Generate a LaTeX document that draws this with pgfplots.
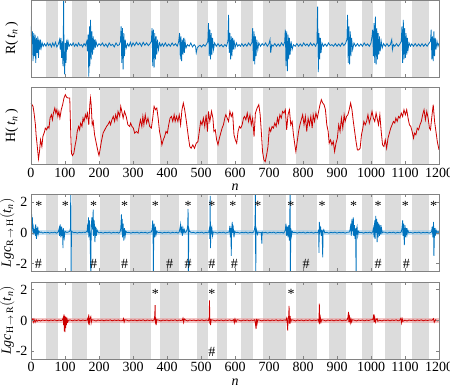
\documentclass[border=0pt]{standalone}
\usepackage{pgfplots}
\pgfplotsset{compat=1.18}
\usepackage{fontspec}
\setmainfont{Liberation Serif}
\definecolor{mblue}{RGB}{0,114,189}
\definecolor{mred}{RGB}{205,0,0}
\definecolor{bandgray}{RGB}{220,220,220}
\definecolor{framegray}{RGB}{130,130,130}
\newcommand{\band}[4]{\addplot[draw=none,fill=bandgray] coordinates {(#1,#3)(#1,#4)(#2,#4)(#2,#3)} --cycle;}
\newcommand{\allbands}[2]{%
\band{43}{80}{#1}{#2}\band{121}{166}{#1}{#2}\band{202}{261}{#1}{#2}\band{290}{354}{#1}{#2}%
\band{380}{435}{#1}{#2}\band{489}{520}{#1}{#2}\band{548}{577}{#1}{#2}\band{618}{653}{#1}{#2}%
\band{682}{750}{#1}{#2}\band{779}{841}{#1}{#2}\band{875}{925}{#1}{#2}\band{973}{1005}{#1}{#2}%
\band{1040}{1089}{#1}{#2}\band{1120}{1171}{#1}{#2}}
\pgfplotsset{
  every axis/.append style={
    scale only axis, width=408pt, height=77pt, anchor=south west,
    xmin=0, xmax=1200, xtick={0,100,...,1200},
    font=\fontsize{14}{16}\selectfont,
    /pgf/number format/assume math mode=true,
    /pgf/number format/1000 sep={},
    axis line style={framegray, line width=0.5pt},
    every tick/.style={framegray, line width=0.5pt},
    major tick length=3pt, tick align=inside, tick pos=both,
    axis on top, clip=true,
    ylabel style={at={(axis description cs:-0.047,0.5)}, anchor=center},
    xlabel style={at={(axis description cs:0.5,-0.30)}, anchor=center},
  }
}
\begin{document}
\begin{tikzpicture}
\path[use as bounding box] (0pt,0pt) rectangle (450pt,387pt);
% ---------------- Panel 1: R(t_n)
\begin{axis}[at={(31pt,310pt)}, y dir=reverse, ymin=0, ymax=233, ytick=\empty, xticklabels={},
  ylabel={R(\,\textit{t}\textsubscript{\textit{n}}\,)}]
\allbands{0}{233}
\addplot[mblue, line width=0.8pt] coordinates {
(0,110)(1,80)(3,130)(4,95)(6,185)(8,100)(10,170)(12,105)(14,190)(16,115)(18,160)(20,110)(22,175)(24,120)(26,150)(28,120)(30,145)(33,130)(36,140)(40,132)(44,140)(48,130)(52,138)(56,132)(60,142)(64,130)(68,140)(72,128)(76,142)(80,135)(84,120)(86,150)(88,115)(90,175)(92,125)(94,200)(95,110)(96,0)(97,170)(99,225)(101,130)(103,190)(105,120)(107,150)(109,125)(112,140)(116,133)(120,138)(124,130)(128,140)(132,133)(136,140)(140,130)(144,138)(148,135)(152,142)(156,132)(160,138)(164,125)(166,155)(168,105)(170,232)(172,80)(173,200)(175,60)(177,180)(179,95)(181,165)(183,110)(185,150)(187,120)(189,145)(191,125)(195,140)(200,132)(205,138)(210,130)(215,140)(220,133)(225,142)(230,130)(235,138)(240,134)(245,142)(250,130)(255,138)(260,135)(263,125)(265,80)(267,190)(269,85)(271,210)(273,100)(275,170)(277,120)(280,145)(284,132)(288,140)(292,128)(296,140)(300,130)(305,138)(310,128)(315,136)(320,130)(325,140)(330,128)(335,137)(340,130)(345,138)(350,132)(354,125)(356,85)(358,200)(360,90)(362,205)(364,100)(366,180)(368,110)(370,165)(372,120)(375,150)(378,130)(382,140)(386,132)(390,140)(395,130)(400,140)(405,133)(410,140)(415,130)(420,138)(425,132)(430,140)(434,128)(437,100)(439,180)(441,110)(443,185)(445,120)(447,165)(449,115)(451,160)(453,125)(456,145)(460,135)(465,140)(470,130)(475,142)(480,135)(484,140)(486,160)(489,145)(493,140)(497,137)(502,142)(507,135)(512,140)(517,132)(520,125)(522,70)(524,170)(526,90)(528,180)(530,100)(532,165)(534,115)(537,150)(540,130)(545,140)(550,132)(555,140)(560,135)(565,142)(570,135)(575,140)(579,125)(581,45)(583,160)(585,100)(587,180)(589,110)(591,170)(593,115)(595,150)(597,120)(600,145)(604,130)(608,140)(612,135)(616,140)(620,132)(625,140)(630,133)(635,140)(640,130)(645,138)(650,128)(652,85)(654,185)(656,95)(658,195)(660,110)(662,170)(664,120)(667,150)(670,130)(675,140)(680,132)(685,138)(690,130)(695,140)(700,132)(703,120)(705,160)(708,135)(712,140)(717,132)(722,140)(727,133)(732,140)(737,130)(742,138)(746,128)(748,90)(750,200)(752,95)(754,215)(756,105)(758,180)(760,115)(762,165)(765,125)(768,150)(772,135)(777,140)(782,132)(787,140)(792,133)(797,140)(802,130)(807,138)(812,133)(817,140)(822,130)(827,138)(832,132)(837,140)(841,130)(843,20)(845,218)(847,100)(849,180)(851,115)(853,160)(856,130)(860,140)(865,133)(870,140)(875,130)(880,138)(885,135)(890,140)(895,132)(900,140)(905,133)(910,140)(915,130)(920,138)(925,132)(929,120)(931,45)(933,190)(935,80)(937,195)(939,95)(941,170)(943,115)(946,150)(950,130)(955,140)(960,132)(965,140)(970,133)(975,140)(980,130)(985,138)(990,133)(995,140)(1000,130)(1003,110)(1005,90)(1007,170)(1009,70)(1011,190)(1013,50)(1015,195)(1017,85)(1019,180)(1021,100)(1023,165)(1025,110)(1027,155)(1030,125)(1033,145)(1037,132)(1042,140)(1047,132)(1052,140)(1057,135)(1061,120)(1063,150)(1066,135)(1070,140)(1075,132)(1080,140)(1085,133)(1089,125)(1091,80)(1093,190)(1095,60)(1097,180)(1099,85)(1101,175)(1103,100)(1105,165)(1107,115)(1109,150)(1112,130)(1116,140)(1120,133)(1125,140)(1130,132)(1135,140)(1140,133)(1145,140)(1150,132)(1155,140)(1160,133)(1165,140)(1170,132)(1175,125)(1177,90)(1179,180)(1181,110)(1183,185)(1185,95)(1187,170)(1189,115)(1191,150)(1194,125)(1197,140)(1200,130)
};
\end{axis}
% ---------------- Panel 2: H(t_n)
\begin{axis}[at={(31pt,222.7pt)}, y dir=reverse, ymin=8, ymax=238, ytick=\empty,
  ylabel={H(\,\textit{t}\textsubscript{\textit{n}}\,)}, xlabel={\textit{n}}]
\allbands{8}{238}
\addplot[mred, line width=0.8pt] coordinates {
(0,55)(6,65)(9,85)(13,120)(15,150)(19,190)(22,222)(25,200)(28,165)(32,185)(35,155)(40,140)(42,130)(46,135)(50,125)(53,130)(56,100)(60,90)(63,105)(66,85)(70,70)(73,85)(76,75)(79,95)(82,80)(85,100)(89,75)(93,60)(97,40)(101,30)(105,38)(109,40)(114,40)(117,150)(119,205)(122,212)(126,205)(130,180)(133,165)(136,140)(140,125)(143,135)(146,115)(150,125)(153,100)(156,110)(160,90)(163,100)(166,85)(170,120)(173,60)(175,40)(177,60)(180,120)(183,110)(187,150)(192,175)(197,200)(200,212)(203,195)(207,170)(212,145)(217,135)(222,125)(226,120)(231,110)(234,120)(238,105)(242,95)(246,110)(249,90)(253,105)(256,80)(261,95)(264,65)(268,85)(271,100)(275,80)(280,95)(285,120)(290,125)(293,115)(297,125)(301,130)(305,145)(310,140)(315,145)(319,120)(322,105)(326,125)(329,95)(332,120)(336,90)(340,115)(344,100)(349,125)(354,130)(358,100)(362,65)(366,75)(370,70)(374,100)(378,140)(382,160)(385,180)(389,165)(393,155)(397,140)(401,145)(405,120)(409,100)(413,95)(417,110)(421,90)(424,110)(428,95)(432,110)(436,90)(440,120)(444,75)(448,55)(452,75)(457,110)(462,150)(467,185)(471,190)(476,180)(481,190)(486,175)(491,170)(495,140)(499,110)(503,120)(507,100)(511,125)(515,90)(519,140)(522,80)(526,110)(531,80)(535,100)(538,140)(542,135)(546,165)(550,180)(554,160)(558,145)(562,130)(566,120)(570,100)(573,90)(577,100)(581,110)(585,80)(589,95)(593,85)(597,150)(601,165)(605,175)(609,140)(613,125)(617,130)(621,120)(625,100)(628,95)(632,105)(636,85)(640,110)(644,90)(648,120)(652,100)(656,155)(660,85)(665,70)(670,60)(674,90)(678,150)(681,200)(685,225)(689,230)(693,210)(697,185)(701,130)(705,140)(709,125)(713,130)(717,115)(721,125)(725,100)(728,115)(732,90)(736,100)(740,80)(744,85)(748,75)(752,135)(756,90)(760,75)(764,120)(768,110)(772,150)(776,180)(779,200)(783,170)(787,140)(791,120)(795,105)(799,90)(803,120)(807,95)(811,140)(815,100)(819,120)(823,95)(827,130)(830,90)(834,110)(838,85)(842,100)(846,80)(850,60)(854,45)(858,55)(862,60)(866,75)(870,120)(874,140)(877,175)(881,165)(885,180)(889,170)(893,200)(897,175)(901,160)(905,120)(909,140)(913,100)(917,130)(921,90)(924,110)(928,95)(932,90)(936,75)(940,55)(944,75)(948,110)(952,140)(956,170)(960,195)(964,195)(968,190)(972,150)(976,130)(979,110)(983,120)(987,110)(991,90)(995,115)(999,100)(1003,80)(1007,100)(1011,110)(1015,85)(1018,100)(1022,120)(1026,90)(1030,140)(1034,180)(1038,185)(1042,165)(1046,190)(1050,160)(1054,145)(1058,130)(1062,120)(1066,110)(1070,115)(1073,100)(1077,110)(1081,95)(1085,100)(1089,85)(1093,95)(1097,75)(1101,90)(1105,75)(1109,100)(1113,120)(1117,125)(1121,140)(1125,160)(1128,145)(1132,150)(1136,130)(1140,135)(1144,120)(1148,110)(1152,90)(1156,75)(1160,105)(1164,80)(1168,100)(1172,130)(1175,135)(1179,95)(1183,60)(1187,110)(1191,140)(1195,170)(1200,195)
};
\end{axis}
% ---------------- Panel 3: Lgc R->H
\begin{axis}[at={(31pt,115.7pt)}, ymin=-2.5, ymax=2.5, ytick={-2,0,2}, xticklabels={},
  ylabel style={at={(axis description cs:-0.058,0.5)}},
  ylabel={\textit{Lgc}\textsubscript{R$\,\rightarrow\,$H}$\bigl($\textit{t}\textsubscript{\textit{n}}$\bigr)$}]
\allbands{-2.5}{2.5}
\addplot[draw=none, fill=mblue!40, fill opacity=0.55] coordinates {(0,-0.17)(1200,-0.17)(1200,0.17)(0,0.17)} --cycle;
\addplot[mblue, line width=0.8pt] coordinates {
(0,0.1)(2,1.2)(3,0.3)(4,1.0)(5,0.1)(6,0.6)(7,-0.1)(8,0.2)(10,0.05)(12,0.3)(13,-0.2)(14,0.55)(15,0.1)(16,-0.4)(17,0.3)(18,0.05)(20,0.4)(21,-0.1)(23,0.1)(26,0.02)(30,0.05)(35,-0.02)(40,0.03)(45,0)(50,0.03)(55,-0.02)(60,0.02)(65,0)(70,0.04)(75,-0.02)(80,0.05)(83,0.3)(84,-0.2)(86,0.55)(87,0.1)(88,-0.3)(90,0.4)(91,-0.2)(93,0.2)(94,-1.0)(95,0.3)(96,0.1)(98,-0.3)(100,0.1)(103,0.05)(106,0.02)(110,0.05)(114,0.1)(116,0.3)(117,3)(118,-3)(119,0.1)(122,0.05)(126,0)(130,0.03)(136,-0.02)(142,0.03)(148,0)(154,0.04)(160,0.02)(165,0.1)(167,0.6)(168,0.0)(169,1.0)(170,-0.3)(172,0.8)(174,-0.5)(176,-3)(177,0.3)(179,1.0)(181,0.2)(183,1.5)(184,-0.2)(186,0.8)(188,-0.6)(190,0.4)(192,-0.2)(194,0.2)(197,0.05)(200,0.0)(206,0.03)(212,-0.02)(218,0.03)(224,0)(230,0.04)(236,-0.02)(242,0.03)(248,0)(254,0.03)(258,-0.02)(262,0.05)(264,0.3)(266,1.2)(267,0.1)(268,0.9)(269,-0.3)(271,0.6)(273,-0.5)(275,0.3)(277,-0.2)(279,0.1)(282,0.02)(288,0.03)(294,-0.02)(300,0.03)(306,0)(312,0.04)(318,-0.02)(324,0.03)(330,0)(336,0.03)(342,-0.02)(348,0.03)(354,0.05)(356,0.2)(358,0.8)(359,0.1)(360,-3)(361,0.2)(362,0.6)(364,-0.3)(366,0.4)(368,-0.1)(370,0.1)(373,0.02)(380,0.03)(386,-0.02)(392,0.03)(398,0)(404,0.04)(410,-0.02)(416,0.03)(422,0)(428,0.03)(432,-0.02)(436,0.05)(438,0.3)(440,0.55)(441,0.0)(443,0.4)(445,-0.2)(447,0.3)(449,0.05)(451,0.2)(453,0.0)(456,0.05)(459,0.2)(461,0.5)(462,1.55)(463,-3)(464,0.3)(466,0.1)(469,0.05)(472,0.0)(478,0.03)(484,-0.02)(490,0.03)(496,0)(502,0.04)(508,-0.02)(514,0.03)(519,0)(523,0.05)(525,0.3)(526,-0.4)(527,2.4)(528,-1.0)(529,0.4)(530,0.0)(532,0.3)(534,-0.2)(536,0.05)(542,0.03)(548,-0.02)(554,0.03)(560,0)(566,0.04)(572,-0.02)(578,0.03)(583,0.05)(585,0.45)(586,-0.3)(588,0.3)(589,-1.5)(590,0.2)(592,0.7)(593,0.0)(595,0.3)(597,-0.3)(599,0.1)(602,0.02)(608,0.03)(614,-0.02)(620,0.03)(626,0)(632,0.04)(638,-0.02)(644,0.03)(650,0)(655,0.05)(657,0.2)(659,0.5)(660,3)(661,-3)(662,0.3)(664,0.1)(666,-0.1)(668,0.05)(673,0.02)(677,0.02)(679,-0.7)(680,0.05)(684,0)(690,0.03)(696,-0.02)(702,0.03)(708,0)(714,0.04)(720,-0.02)(726,0.03)(732,0)(738,0.03)(742,-0.02)(746,0.05)(748,0.2)(750,0.6)(752,-0.2)(754,0.4)(756,-0.3)(758,0.5)(760,-0.5)(761,0.3)(762,3)(763,-3)(764,0.3)(766,-0.2)(768,0.1)(771,0.02)(777,0.03)(783,-0.02)(789,0.03)(795,0)(801,0.04)(807,-0.02)(813,0.03)(819,0)(825,0.03)(831,-0.02)(837,0.03)(841,0)(845,0.05)(846,0.2)(847,-1.3)(848,0.7)(850,0.1)(852,0.3)(854,-0.2)(856,0.2)(858,-1.6)(859,0.1)(861,0.2)(864,0.0)(870,0.03)(876,-0.02)(882,0.03)(888,0)(894,0.04)(900,-0.02)(906,0.03)(912,0)(918,0.03)(924,-0.02)(930,0.03)(937,0.05)(939,0.3)(941,0.6)(942,-0.2)(944,0.9)(946,0.1)(948,1.0)(949,-0.2)(951,0.5)(953,-0.4)(955,0.3)(956,-3)(957,0.2)(959,0.4)(961,-0.2)(963,0.1)(966,0.02)(972,0.03)(978,-0.02)(984,0.03)(990,0)(996,0.04)(1001,-0.02)(1005,0.05)(1007,0.3)(1009,-0.3)(1011,0.8)(1012,-0.4)(1014,1.1)(1015,0.0)(1017,0.9)(1018,-0.6)(1020,0.7)(1021,-0.3)(1023,0.6)(1025,-0.2)(1027,0.5)(1029,-0.1)(1031,0.3)(1033,0.0)(1036,0.05)(1042,0.03)(1048,-0.02)(1054,0.03)(1060,0)(1066,0.04)(1072,-0.02)(1078,0.03)(1084,0)(1089,0.05)(1091,0.3)(1093,0.8)(1094,-0.2)(1096,0.6)(1098,-0.8)(1100,0.5)(1102,-0.3)(1104,0.3)(1106,-0.1)(1108,0.2)(1111,0.0)(1117,0.03)(1123,-0.02)(1129,0.03)(1135,0)(1141,0.04)(1147,-0.02)(1153,0.03)(1159,0)(1165,0.03)(1171,-0.02)(1178,0.05)(1180,0.4)(1182,-0.3)(1184,0.7)(1185,-1.5)(1187,0.3)(1189,-0.2)(1191,0.2)(1194,0.0)(1197,0.1)(1200,0.0)
};
\addplot[draw=none, nodes near coords={*}, every node near coord/.style={anchor=center, black}] coordinates {
(23,1.72)(101,1.72)(184,1.72)(275,1.72)(366,1.72)(462,1.72)(532,1.72)(594,1.72)(667,1.72)(764,1.72)(856,1.72)(949,1.72)(1021,1.72)(1101,1.72)(1184,1.72)};
\addplot[draw=none, nodes near coords={\#}, every node near coord/.style={anchor=center, black}] coordinates {
(22,-2.05)(184,-2.05)(275,-2.05)(408,-2.05)(462,-2.05)(532,-2.05)(598,-2.05)(809,-2.05)(1021,-2.05)(1104,-2.05)};
\end{axis}
% ---------------- Panel 4: Lgc H->R
\begin{axis}[at={(31pt,28pt)}, ymin=-2.5, ymax=2.5, ytick={-2,0,2},
  ylabel style={at={(axis description cs:-0.058,0.5)}},
  ylabel={\textit{Lgc}\textsubscript{H$\,\rightarrow\,$R}$\bigl($\textit{t}\textsubscript{\textit{n}}$\bigr)$},
  xlabel={\textit{n}}]
\allbands{-2.5}{2.5}
\addplot[draw=none, fill=mred!40, fill opacity=0.55] coordinates {(0,-0.17)(1200,-0.17)(1200,0.17)(0,0.17)} --cycle;
\addplot[mred, line width=0.8pt] coordinates {
(0,0)(5,0.1)(7,-0.1)(9,0.08)(12,-0.12)(15,0.05)(18,-0.05)(22,0.02)(28,-0.03)(34,0.03)(40,0)(46,0.03)(52,-0.02)(58,0.03)(64,0)(70,0.04)(76,-0.02)(82,0.03)(88,0)(92,0.02)(95,0.2)(96,-0.3)(97,0.4)(98,-0.7)(99,0.3)(100,-0.75)(101,0.25)(102,-0.5)(103,0.2)(104,-0.3)(106,0.1)(108,-0.1)(110,0.02)(116,0.03)(122,-0.02)(128,0.03)(134,0)(140,0.04)(146,-0.02)(152,0.03)(158,0)(165,0.02)(168,0.2)(169,-0.2)(170,0.4)(171,-0.3)(173,0.1)(176,0.25)(177,-0.15)(179,0.05)(185,0.02)(191,-0.03)(197,0.03)(203,0)(209,0.03)(215,-0.02)(221,0.03)(227,0)(233,0.04)(239,-0.02)(245,0.03)(251,0)(257,0.03)(263,-0.02)(270,0.0)(272,0.12)(274,-0.1)(276,0.05)(282,0.02)(288,-0.03)(294,0.03)(300,0)(306,0.03)(312,-0.02)(318,0.03)(324,0)(330,0.04)(336,-0.02)(342,0.03)(348,0)(354,0.03)(358,-0.02)(362,0.05)(364,0.3)(365,1.0)(366,-0.2)(367,0.2)(368,-0.3)(370,0.05)(376,0.02)(382,-0.03)(388,0.03)(394,0)(400,0.03)(406,-0.02)(412,0.03)(418,0)(424,0.04)(430,-0.02)(436,0.03)(440,0)(445,0.02)(447,0.15)(449,-0.12)(451,0.1)(455,0.02)(461,-0.03)(467,0.03)(473,0)(479,0.03)(485,-0.02)(491,0.03)(497,0)(503,0.04)(509,-0.02)(515,0.03)(522,0.0)(524,0.2)(525,1.3)(526,-0.2)(527,0.1)(528,-0.3)(530,0.05)(536,0.02)(542,-0.03)(548,0.03)(554,0)(560,0.03)(566,-0.02)(572,0.03)(578,0)(584,0.04)(590,-0.02)(596,0.05)(598,-0.15)(600,0.1)(603,-0.1)(606,0.05)(612,0.02)(618,-0.03)(624,0.03)(630,0)(636,0.03)(642,-0.02)(648,0.03)(653,0)(658,0.05)(660,-0.2)(662,-0.55)(663,0.1)(665,-0.2)(667,0.05)(673,0.02)(679,-0.03)(685,0.03)(691,0)(697,0.03)(703,-0.02)(709,0.03)(715,0)(721,0.04)(727,-0.02)(733,0.03)(739,0)(745,0.03)(750,0.02)(752,0.15)(754,-0.3)(755,-0.65)(756,0.1)(758,0.3)(759,0.95)(760,-0.2)(762,0.3)(764,-0.1)(766,0.05)(772,0.02)(778,-0.03)(784,0.03)(790,0)(796,0.03)(802,-0.02)(808,0.03)(814,0)(820,0.04)(826,-0.02)(832,0.03)(838,0)(845,0.05)(847,-0.1)(848,1.1)(849,-0.2)(851,0.2)(853,-0.1)(855,0.05)(861,0.02)(867,-0.03)(873,0.03)(879,0)(885,0.03)(891,-0.02)(897,0.03)(903,0)(909,0.04)(915,-0.02)(921,0.03)(926,0)(930,0.05)(932,0.2)(934,0.55)(935,-0.1)(937,0.2)(939,-0.15)(941,0.1)(943,-0.1)(945,0.05)(951,0.02)(957,-0.03)(963,0.03)(969,0)(975,0.03)(981,-0.02)(987,0.03)(993,0)(999,0.04)(1005,0.05)(1007,0.2)(1008,0.4)(1009,-0.1)(1011,0.2)(1013,-0.1)(1015,0.05)(1018,0.12)(1020,-0.05)(1026,0.02)(1032,-0.03)(1038,0.03)(1044,0)(1050,0.03)(1056,-0.02)(1062,0.03)(1068,0)(1074,0.04)(1080,-0.02)(1085,0.02)(1088,0.15)(1090,-0.15)(1092,0.1)(1094,-0.05)(1100,0.02)(1106,-0.03)(1112,0.03)(1118,0)(1124,0.03)(1130,-0.02)(1136,0.03)(1142,0)(1148,0.04)(1154,-0.02)(1160,0.03)(1166,0)(1172,0.03)(1180,0.02)(1184,0.12)(1186,-0.12)(1190,0.05)(1195,-0.03)(1200,0)
};
\addplot[draw=none, nodes near coords={*}, every node near coord/.style={anchor=center, black}] coordinates {
(366,1.72)(532,1.72)(765,1.72)};
\addplot[draw=none, nodes near coords={\#}, every node near coord/.style={anchor=center, black}] coordinates {
(532,-2.05)};
\end{axis}
\end{tikzpicture}
\end{document}
